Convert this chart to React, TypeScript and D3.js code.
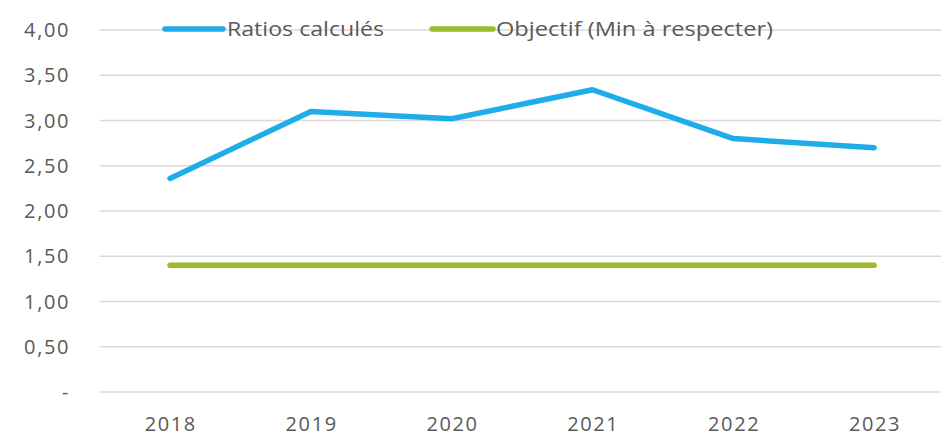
import React from "react";
import * as d3 from "d3";

const years = ["2018", "2019", "2020", "2021", "2022", "2023"];
const ratios = [2.36, 3.1, 3.02, 3.34, 2.8, 2.7];
const objectif = [1.4, 1.4, 1.4, 1.4, 1.4, 1.4];
const yTicks = [0, 0.5, 1, 1.5, 2, 2.5, 3, 3.5, 4];
const seriesNames = ["Ratios calculés", "Objectif (Min à respecter)"];
const colors = ["#1fadea", "#9bbb2d"];

const W = 941;
const H = 437;
const FONT = "'Open Sans', 'DejaVu Sans', sans-serif";

export default function App() {
  const x = d3.scalePoint<string>().domain(years).range([99.6, 944.6]).padding(0.5);
  const y = d3.scaleLinear().domain([0, 4]).range([392, 30]);
  const fmt = (v: number) => (v === 0 ? "-" : d3.format(".2f")(v).replace(".", ","));
  const line = d3
    .line<number>()
    .x((_, i) => x(years[i]) as number)
    .y((d) => y(d));

  return (
    <svg
      width={W}
      height={H}
      style={{ position: "absolute", left: 0, top: 0, background: "#fff" }}
      fontFamily={FONT}
    >
      <rect x={0} y={0} width={W} height={H} fill="#fff" />
      {yTicks.map((t) => (
        <g key={t}>
          <line x1={99.6} x2={W} y1={y(t)} y2={y(t)} stroke="#d9d9d9" strokeWidth={1.3} />
          <text
            x={70}
            y={y(t)}
            dy="0.36em"
            textAnchor="end"
            fontSize={20}
            fill="#595959"
            letterSpacing={1.6}
          >
            {fmt(t)}
          </text>
        </g>
      ))}
      {years.map((yr) => (
        <text
          key={yr}
          x={(x(yr) as number) + 0.8}
          y={431}
          textAnchor="middle"
          fontSize={20}
          fill="#595959"
          letterSpacing={1.6}
        >
          {yr}
        </text>
      ))}
      <path d={line(objectif) || ""} fill="none" stroke={colors[1]} strokeWidth={5.5} strokeLinecap="round" />
      <path
        d={line(ratios) || ""}
        fill="none"
        stroke={colors[0]}
        strokeWidth={5.5}
        strokeLinecap="round"
        strokeLinejoin="round"
      />
      {/* legend */}
      <line x1={165} x2={223} y1={29} y2={29} stroke={colors[0]} strokeWidth={5.5} strokeLinecap="round" />
      <text
        x={227}
        y={29}
        dy="0.36em"
        fontSize={20}
        fill="#595959"
        textLength={157}
        lengthAdjust="spacingAndGlyphs"
      >
        {seriesNames[0]}
      </text>
      <line x1={432} x2={493} y1={29} y2={29} stroke={colors[1]} strokeWidth={5.5} strokeLinecap="round" />
      <text
        x={496}
        y={29}
        dy="0.36em"
        fontSize={20}
        fill="#595959"
        textLength={277}
        lengthAdjust="spacingAndGlyphs"
      >
        {seriesNames[1]}
      </text>
    </svg>
  );
}
